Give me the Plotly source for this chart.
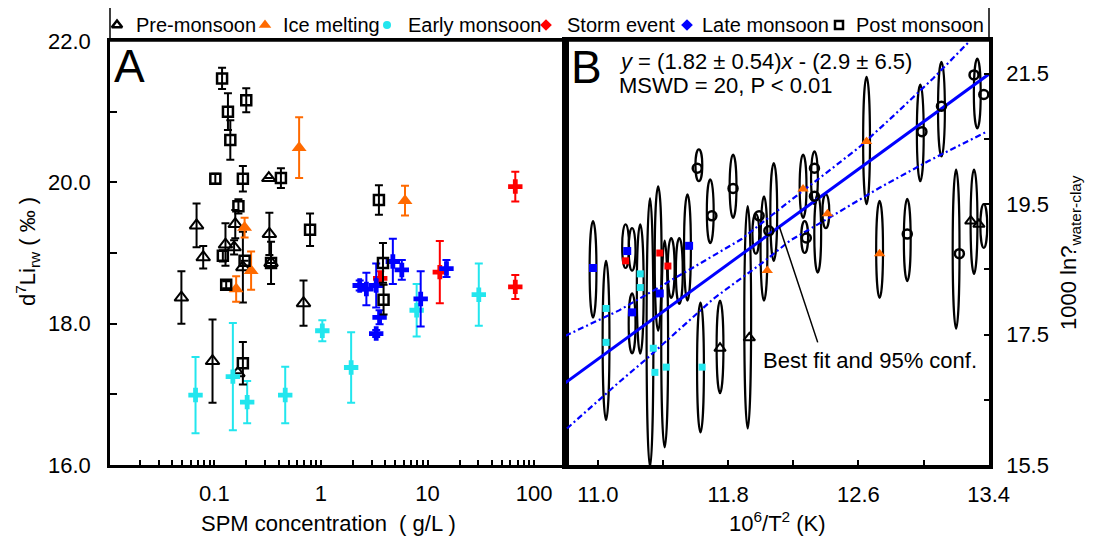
import plotly.graph_objects as go

W, H = 1093, 543
OFF = 8          # the page body margin shifts the figure by 8 px
FONT = "Liberation Sans, Arial, Helvetica, sans-serif"

# ---------------- categories ----------------
categories = ["Pre-monsoon", "Ice melting", "Early monsoon", "Storm event", "Late monsoon", "Post monsoon"]

# ---------------- Panel A : SPM concentration (g/L) vs d7Li (permil) ----------------
pre_x = [0.068, 0.0785, 0.049, 0.096, 0.127, 0.153, 0.157, 0.185, 0.324, 0.328, 0.340, 0.686, 0.166]
pre_y = [19.39, 18.94, 18.37, 17.47, 19.12, 19.08, 19.41, 18.80, 20.06, 19.27, 18.86, 18.29, 17.30]
pre_e = [0.31, 0.16, 0.37, 0.59, 0.30, 0.10, 0.20, 0.50, 0.00, 0.30, 0.30, 0.32, 0.00]

ice_x = [0.624, 6.15, 0.192, 0.160, 0.221]
ice_y = [20.49, 19.74, 19.36, 18.49, 18.75]
ice_e = [0.43, 0.21, 0.14, 0.18, 0.27]

early_x = [0.0665, 0.149, 0.203, 0.462, 1.03, 1.92, 7.91, 30.3]
early_y = [16.99, 17.25, 16.89, 16.99, 17.90, 17.38, 18.19, 18.41]
early_e = [0.54, 0.76, 0.30, 0.40, 0.15, 0.50, 0.37, 0.44]

storm_x = [66.7, 66.7, 13.05, 3.6]
storm_y = [19.94, 18.52, 18.73, 18.64]
storm_e = [0.21, 0.17, 0.44, 0.10]

late_x = [2.31, 2.67, 3.30, 4.73, 5.74, 3.55, 3.30, 8.63, 15.07]
late_y = [18.54, 18.49, 18.54, 18.88, 18.76, 18.09, 17.86, 18.35, 18.78]
late_e = [0.07, 0.23, 0.31, 0.32, 0.14, 0.10, 0.05, 0.39, 0.12]

post_x = [0.118, 0.134, 0.199, 0.141, 0.102, 0.185, 0.421, 0.168, 0.790, 3.50, 3.82, 3.87,
          0.185, 0.120, 0.129, 0.340, 0.192]
post_y = [21.47, 21.00, 21.16, 20.60, 20.05, 20.05, 20.06, 19.66, 19.33, 19.75, 18.86, 18.34,
          17.44, 18.96, 18.55, 18.86, 18.89]
post_e = [0.15, 0.26, 0.17, 0.28, 0.07, 0.18, 0.14, 0.10, 0.23, 0.21, 0.28, 0.21,
          0.30, 0.08, 0.05, 0.00, 0.00]

# ---------------- Panel B : 10^6/T^2 vs 1000 ln(alpha) ----------------
# outlined probability shapes: centre x, lower y, upper y
shape_x = [10.97, 11.05, 11.17, 11.21, 11.21, 11.26, 11.32, 11.37, 11.41, 11.45, 11.50, 11.55,
           11.62, 11.63, 11.69, 11.75, 11.83, 11.92, 11.97, 12.02, 12.08, 12.26, 12.33, 12.27,
           12.35, 12.40, 12.65, 12.73, 12.90, 12.98, 13.11, 13.20, 13.31, 13.33, 13.37]
shape_lo = [17.76, 16.19, 18.52, 18.48, 17.21, 17.21, 15.47, 17.56, 15.77, 18.06, 17.97, 18.02,
            19.85, 16.00, 18.90, 16.60, 19.29, 16.06, 18.74, 18.02, 18.63, 19.29, 19.50, 18.75,
            18.45, 19.13, 19.50, 18.06, 18.32, 19.85, 20.23, 17.59, 18.43, 20.66, 18.83]
shape_hi = [19.24, 18.63, 19.19, 19.13, 18.13, 19.19, 19.59, 19.77, 18.94, 18.98, 18.98, 19.65,
            20.34, 17.99, 19.88, 18.02, 20.26, 19.47, 19.35, 19.62, 20.13, 20.26, 20.31, 19.24,
            19.65, 19.65, 21.45, 19.55, 19.58, 21.33, 21.68, 20.03, 20.03, 21.73, 19.50]

b_pre_x = [11.93, 11.75, 13.29, 13.34]
b_pre_y = [17.45, 17.29, 19.24, 19.19]
b_ice_x = [12.04, 12.26, 12.41, 12.65, 12.73]
b_ice_y = [18.48, 19.73, 19.35, 20.46, 18.74]
b_early_x = [11.05, 11.05, 11.26, 11.26, 11.35, 11.42, 11.64, 11.34]
b_early_y = [17.90, 17.38, 18.43, 18.22, 16.92, 17.00, 17.00, 17.29]
b_storm_x = [11.17, 11.38, 11.43]
b_storm_y = [18.63, 18.75, 18.55]
b_late_x = [10.97, 11.18, 11.21, 11.38, 11.56]
b_late_y = [18.52, 18.78, 17.84, 18.13, 18.86]
b_post_x = [11.61, 11.70, 11.83, 12.33, 12.33, 12.28, 12.99, 13.11, 13.31, 13.37, 12.90, 13.22, 11.99, 12.05]
b_post_y = [20.05, 19.32, 19.74, 20.05, 19.62, 18.98, 20.61, 21.00, 21.48, 21.18, 19.04, 18.74, 19.32, 19.09]

fit_x = [10.80, 13.40]
fit_y = [16.76, 21.49]
upper_x = [10.80, 11.13, 11.58, 11.88, 12.18, 12.60, 12.81, 13.06, 13.28]
upper_y = [17.48, 17.87, 18.52, 18.96, 19.55, 20.36, 20.84, 21.43, 21.99]
lower_x = [10.81, 10.98, 11.13, 11.30, 11.71, 12.01, 12.18, 12.42, 12.73, 13.03, 13.38]
lower_y = [16.06, 16.44, 16.77, 17.13, 18.05, 18.60, 18.94, 19.29, 19.75, 20.16, 20.60]

# ---------------- tick labels ----------------
a_x_labels = ["0.1", "1", "10", "100"]
a_y_ticks = [16, 17, 18, 19, 20, 21, 22]
a_y_labels = ["16.0", "", "18.0", "", "20.0", "", "22.0"]
b_x_ticks = [11.0, 11.4, 11.8, 12.2, 12.6, 13.0, 13.4]
b_x_labels = ["11.0", "", "11.8", "", "12.6", "", "13.4"]
b_y_ticks = [15.5, 16.5, 17.5, 18.5, 19.5, 20.5, 21.5]
b_y_labels = ["15.5", "", "17.5", "", "19.5", "", "21.5"]

# ---------------- styles ----------------
colors = {"Pre-monsoon": "black", "Ice melting": "#ff6a00", "Early monsoon": "#22e6ee",
          "Storm event": "#ff0000", "Late monsoon": "#0000ff", "Post monsoon": "black"}
symA = {"Pre-monsoon": ("triangle-up-open", 12, 2), "Ice melting": ("triangle-up", 13, 0),
        "Early monsoon": ("cross", 12, 0), "Storm event": ("cross", 12, 0),
        "Late monsoon": ("cross", 12, 0), "Post monsoon": ("square-open", 10, 2.5)}
symB = {"Pre-monsoon": ("triangle-up-open", 10, 2), "Ice melting": ("triangle-up", 10, 0),
        "Early monsoon": ("square", 7, 0), "Storm event": ("square", 7, 0),
        "Late monsoon": ("square", 8, 0), "Post monsoon": ("circle-open", 9, 2.5)}
symL = {"Pre-monsoon": ("triangle-up-open", 9, 2.5), "Ice melting": ("triangle-up", 11, 0),
        "Early monsoon": ("circle", 8, 0), "Storm event": ("diamond", 9, 0),
        "Late monsoon": ("diamond", 9, 0), "Post monsoon": ("square-open", 8, 2.5)}
# layout positions of the hand-drawn legend (symbol and text start, in screen pixels)
legend_sym_px = [117, 265, 387, 546, 687, 839]
legend_txt_px = [134, 281, 406, 565, 700, 854]
LEG_ROW = 25

def pxx(px):
    return (px - OFF) / W

def pxy(py):
    return 1 - (py - OFF) / H

A_dom_x = [pxx(110), pxx(566)]
B_dom_x = [pxx(566), pxx(989)]
dom_y = [pxy(465), pxy(41)]

fig = go.Figure()

panelA = {"Pre-monsoon": (pre_x, pre_y, pre_e), "Ice melting": (ice_x, ice_y, ice_e),
          "Early monsoon": (early_x, early_y, early_e), "Storm event": (storm_x, storm_y, storm_e),
          "Late monsoon": (late_x, late_y, late_e), "Post monsoon": (post_x, post_y, post_e)}
for cat in categories:
    xs, ys, es = panelA[cat]
    s, sz, lw = symA[cat]
    c = colors[cat]
    fig.add_trace(go.Scatter(
        x=xs, y=ys, mode="markers", xaxis="x", yaxis="y", showlegend=False, name=cat,
        marker=dict(symbol=s, size=sz, color=c, line=dict(width=lw, color=c)),
        error_y=dict(type="data", array=es, color=c, thickness=2, width=4)))

# panel B lines
fig.add_trace(go.Scatter(x=upper_x, y=upper_y, mode="lines", xaxis="x2", yaxis="y2", showlegend=False,
                         line=dict(color="#0000ff", width=2.2, dash="6px,3px,2px,3px")))
fig.add_trace(go.Scatter(x=lower_x, y=lower_y, mode="lines", xaxis="x2", yaxis="y2", showlegend=False,
                         line=dict(color="#0000ff", width=2.2, dash="6px,3px,2px,3px")))
fig.add_trace(go.Scatter(x=fit_x, y=fit_y, mode="lines", xaxis="x2", yaxis="y2", showlegend=False,
                         line=dict(color="#0000ff", width=3)))

panelB = {"Pre-monsoon": (b_pre_x, b_pre_y), "Ice melting": (b_ice_x, b_ice_y),
          "Early monsoon": (b_early_x, b_early_y), "Storm event": (b_storm_x, b_storm_y),
          "Late monsoon": (b_late_x, b_late_y), "Post monsoon": (b_post_x, b_post_y)}
for cat in categories:
    xs, ys = panelB[cat]
    s, sz, lw = symB[cat]
    c = colors[cat]
    fig.add_trace(go.Scatter(
        x=xs, y=ys, mode="markers", xaxis="x2", yaxis="y2", showlegend=False, name=cat,
        marker=dict(symbol=s, size=sz, color=c, line=dict(width=lw, color=c))))

# hand-drawn legend (overlay axes, pixel-like units)
annotations = []
for i, cat in enumerate(categories):
    s, sz, lw = symL[cat]
    c = colors[cat]
    fig.add_trace(go.Scatter(x=[legend_sym_px[i]], y=[LEG_ROW], mode="markers", xaxis="x3", yaxis="y3",
                             showlegend=False, hoverinfo="skip",
                             marker=dict(symbol=s, size=sz, color=c, line=dict(width=lw, color=c))))
    annotations.append(dict(x=legend_txt_px[i], y=LEG_ROW, xref="x3", yref="y3", text=cat,
                            showarrow=False, xanchor="left", yanchor="middle",
                            font=dict(size=20, family=FONT, color="black")))

shapes = [dict(type="rect", xref="paper", yref="paper", x0=pxx(110), x1=pxx(989), y0=pxy(41), y1=pxy(7),
               line=dict(color="black", width=1.5), fillcolor="rgba(0,0,0,0)")]
HALF_W = 0.021
for xc, lo, hi in zip(shape_x, shape_lo, shape_hi):
    shapes.append(dict(type="circle", xref="x2", yref="y2", x0=xc - HALF_W, x1=xc + HALF_W, y0=lo, y1=hi,
                       line=dict(color="black", width=2.2), fillcolor="rgba(0,0,0,0)", layer="below"))
# leader line of the "Best fit" note
shapes.append(dict(type="line", xref="x2", yref="y2", x0=12.35, y0=17.38, x1=12.115, y1=19.15,
                   line=dict(color="black", width=1.5)))

def ann(x, y, text, size=22, xanchor="center", yanchor="middle", angle=0, xref="paper", yref="paper"):
    return dict(x=x, y=y, xref=xref, yref=yref, text=text, showarrow=False, xanchor=xanchor,
                yanchor=yanchor, textangle=angle, font=dict(size=size, family=FONT, color="black"))

annotations += [
    ann(pxx(112), pxy(66), "A", size=46, xanchor="left"),
    ann(pxx(569), pxy(67), "B", size=46, xanchor="left"),
    ann(pxx(617), pxy(62), "<i>y</i> = (1.82 ± 0.54)<i>x</i> - (2.9 ± 6.5)", xanchor="left"),
    ann(pxx(617), pxy(86), "MSWD = 20, P &lt; 0.01", xanchor="left"),
    ann(12.0, 17.10, "Best fit and 95% conf.", xanchor="left", xref="x2", yref="y2"),
    ann(pxx(328), pxy(523), "SPM concentration\u00a0\u00a0( g/L )"),
    ann(pxx(777), pxy(522), "10<sup>6</sup>/T<sup>2</sup> (K)"),
    ann(pxx(28), pxy(252), "d<sup>7</sup>Li<sub>rw</sub> ( ‰ )", angle=-90),
    ann(pxx(1070), pxy(253), "1000 ln?<sub>water-clay</sub>", angle=-90),
]

# log-axis tick positions for panel A (labels only at decades)
a_x_tickvals = []
a_x_ticktext = []
for e in range(-2, 3):
    for m in range(1, 10):
        v = m * 10.0 ** e
        if 0.0105 <= v <= 199:
            a_x_tickvals.append(v)
            lab = ""
            if m == 1:
                lab = a_x_labels[e + 1]
            a_x_ticktext.append(lab)

tickfont = dict(size=22, family=FONT, color="black")
common = dict(showgrid=False, zeroline=False, showline=True, linecolor="black", mirror=True,
              ticks="inside", tickcolor="black", tickfont=tickfont, automargin=False)

fig.update_layout(
    width=W, height=H, margin=dict(l=0, r=0, t=0, b=0, pad=0, autoexpand=False), autosize=False,
    paper_bgcolor="white", plot_bgcolor="white", showlegend=False,
    font=dict(family=FONT, color="black"),
    xaxis=dict(type="log", domain=A_dom_x, range=[-1.98, 2.30], anchor="y",
               tickvals=a_x_tickvals, ticktext=a_x_ticktext, ticklen=5, tickwidth=1.5,
               linewidth=2.5, ticklabelstandoff=7, **common),
    yaxis=dict(domain=dom_y, range=[16, 22], anchor="x", tickvals=a_y_ticks, ticktext=a_y_labels,
               ticklen=7, tickwidth=1.5, linewidth=2.5, ticklabelstandoff=12, **common),
    xaxis2=dict(domain=B_dom_x, range=[10.804, 13.402], anchor="y2", tickvals=b_x_ticks,
                ticktext=b_x_labels, ticklen=5, tickwidth=1.5, linewidth=3.5, ticklabelstandoff=7, **common),
    yaxis2=dict(domain=dom_y, range=[15.5, 22.0], anchor="x2", side="right", tickvals=b_y_ticks,
                ticktext=b_y_labels, ticklen=5, tickwidth=1.5, linewidth=3.5, ticklabelstandoff=9, **common),
    xaxis3=dict(domain=[0, 1], range=[OFF, W + OFF], anchor="y3", visible=False, fixedrange=True),
    yaxis3=dict(domain=[pxy(41), 1.0], range=[41, OFF], anchor="x3", visible=False, fixedrange=True),
    shapes=shapes, annotations=annotations,
)

fig.write_html("out.html", config={"displayModeBar": False})
